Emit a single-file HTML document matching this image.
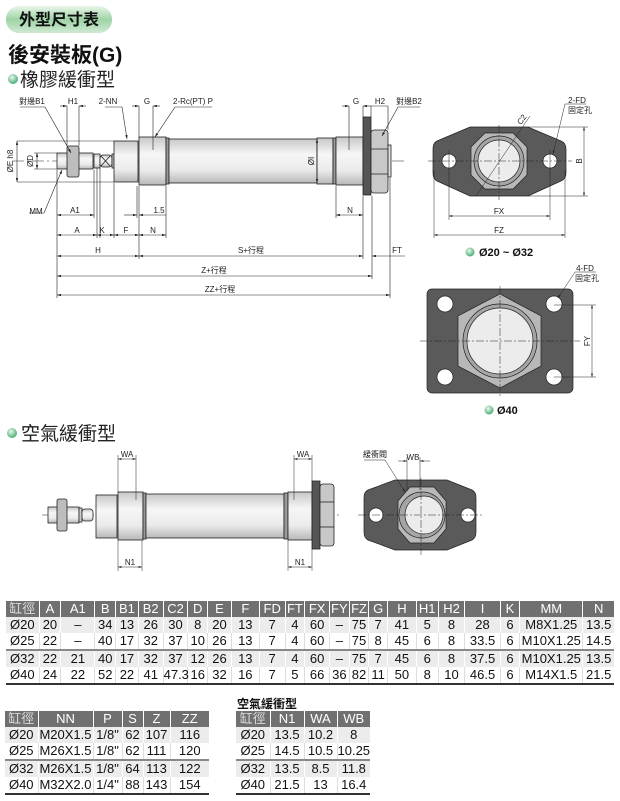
<!DOCTYPE html>
<html><head><meta charset="utf-8">
<style>
html,body{margin:0;padding:0;background:#fff;}
body{width:620px;height:801px;position:relative;overflow:hidden;font-family:"Liberation Sans","Noto Sans CJK TC",sans-serif;}
.abs{position:absolute;}
table{border-collapse:collapse;position:absolute;font-size:13px;color:#111;table-layout:fixed;border-bottom:2px solid #333;}
td,th{padding:0;text-align:center;line-height:16px;white-space:nowrap;overflow:visible;}
th{background:#707070;color:#fff;font-weight:normal;border-left:1px solid #fff;height:16px;}
th:first-child{border-left:none;color:#ddd;}
td{border-left:1px solid #fff;height:16px;}
tr.a td{background:#ececec;}
tr.b td{background:#fff;border-left:1px solid #ddd;}
tr td:first-child{border-left:none;}
tr.sep td{border-top:2px solid #888;}
</style></head><body>

<svg class="abs" style="left:0;top:0" width="620" height="801" viewBox="0 0 620 801" font-family="Liberation Sans, Noto Sans CJK TC, sans-serif">
<defs>
<linearGradient id="pill" x1="0" y1="0" x2="0" y2="1"><stop offset="0" stop-color="#e9f6ea"/><stop offset="0.5" stop-color="#9fd3a6"/><stop offset="1" stop-color="#cfe9d2"/></linearGradient>
<linearGradient id="cyl" x1="0" y1="0" x2="0" y2="1"><stop offset="0" stop-color="#c8c8c8"/><stop offset="0.35" stop-color="#f6f6f6"/><stop offset="0.7" stop-color="#ebebeb"/><stop offset="1" stop-color="#b8b8b8"/></linearGradient>
<radialGradient id="ball" cx="0.4" cy="0.35" r="0.7"><stop offset="0" stop-color="#e8f8ee"/><stop offset="1" stop-color="#3fa86a"/></radialGradient>
<marker id="ar" viewBox="0 0 10 6" refX="10" refY="3" markerWidth="7" markerHeight="4" orient="auto-start-reverse"><path d="M0,0L10,3L0,6z" fill="#222"/></marker>
</defs>

<rect x="6" y="6" width="106" height="27" rx="13" fill="url(#pill)"/>
<text x="59" y="25" font-size="16" font-weight="bold" text-anchor="middle" fill="#111">外型尺寸表</text>
<text x="8" y="62" font-size="21" font-weight="bold" fill="#111">後安裝板(G)</text>
<circle cx="13" cy="79" r="5" fill="url(#ball)"/>
<text x="20" y="86" font-size="19" fill="#222">橡膠緩衝型</text>

<g stroke="#222" stroke-width="0.8">
<line x1="12" y1="161" x2="405" y2="161" stroke-dasharray="12,3,2,3" stroke-width="0.5"/>
<rect x="57" y="153" width="36" height="16" fill="url(#cyl)"/>
<rect x="67" y="146" width="12" height="31" rx="2" fill="#bdbdbd"/>
<rect x="94" y="154" width="6" height="14" fill="url(#cyl)"/>
<rect x="100" y="155" width="12" height="12" rx="3" fill="url(#cyl)"/>
<line x1="101" y1="156" x2="110" y2="166"/><line x1="110" y1="156" x2="101" y2="166"/>
<rect x="112" y="154" width="2" height="14" fill="#ccc"/>
<rect x="114" y="141" width="24" height="41" fill="url(#cyl)"/>
<rect x="139" y="137" width="27" height="48" fill="url(#cyl)"/>
<rect x="166" y="138" width="3" height="46" fill="#999"/>
<rect x="169" y="139" width="148" height="44" fill="url(#cyl)"/>
<rect x="317" y="138" width="16" height="46" fill="url(#cyl)"/>
<rect x="333" y="138" width="3" height="46" fill="#999"/>
<rect x="336" y="137" width="27" height="48" fill="url(#cyl)"/>
<rect x="363" y="117" width="8" height="78" fill="#555"/>
<rect x="371" y="130" width="17" height="63" rx="3" fill="#c8c8c8"/>
<line x1="371" y1="149" x2="388" y2="149"/><line x1="371" y1="174" x2="388" y2="174"/>
<rect x="388" y="145" width="3" height="32" fill="#ddd"/>
</g>
<g stroke="#222" stroke-width="0.6" fill="none">
<line x1="57" y1="170" x2="57" y2="298"/><line x1="94" y1="170" x2="94" y2="218"/>
<line x1="97" y1="168" x2="97" y2="238"/><line x1="100" y1="168" x2="100" y2="238"/>
<line x1="114" y1="183" x2="114" y2="238"/><line x1="137" y1="186" x2="137" y2="218"/>
<line x1="139" y1="186" x2="139" y2="259"/><line x1="166" y1="186" x2="166" y2="238"/>
<line x1="336" y1="186" x2="336" y2="218"/><line x1="363" y1="196" x2="363" y2="259"/>
<line x1="372" y1="196" x2="372" y2="279"/><line x1="390" y1="178" x2="390" y2="298"/>
<line x1="17" y1="141" x2="114" y2="141"/><line x1="17" y1="182" x2="114" y2="182"/>
<line x1="34" y1="153" x2="57" y2="153"/><line x1="34" y1="169" x2="57" y2="169"/>
<line x1="17" y1="141" x2="17" y2="182" marker-start="url(#ar)" marker-end="url(#ar)"/>
<line x1="37" y1="153" x2="37" y2="169" marker-start="url(#ar)" marker-end="url(#ar)"/>
<line x1="317" y1="139" x2="317" y2="183" marker-start="url(#ar)" marker-end="url(#ar)"/>
<line x1="57" y1="215" x2="94" y2="215" marker-start="url(#ar)" marker-end="url(#ar)"/>
<line x1="124" y1="215" x2="137" y2="215" marker-end="url(#ar)"/>
<line x1="139" y1="215" x2="166" y2="215" marker-start="url(#ar)"/>
<line x1="336" y1="215" x2="363" y2="215" marker-start="url(#ar)" marker-end="url(#ar)"/>
<line x1="57" y1="235" x2="97" y2="235" marker-start="url(#ar)" marker-end="url(#ar)"/>
<line x1="97" y1="235" x2="114" y2="235" marker-start="url(#ar)" marker-end="url(#ar)"/>
<line x1="114" y1="235" x2="139" y2="235" marker-start="url(#ar)" marker-end="url(#ar)"/>
<line x1="139" y1="235" x2="166" y2="235" marker-start="url(#ar)" marker-end="url(#ar)"/>
<line x1="57" y1="256" x2="139" y2="256" marker-start="url(#ar)" marker-end="url(#ar)"/>
<line x1="139" y1="256" x2="363" y2="256" marker-start="url(#ar)" marker-end="url(#ar)"/>
<line x1="372" y1="256" x2="405" y2="256" marker-start="url(#ar)"/>
<line x1="57" y1="276" x2="372" y2="276" marker-start="url(#ar)" marker-end="url(#ar)"/>
<line x1="57" y1="295" x2="390" y2="295" marker-start="url(#ar)" marker-end="url(#ar)"/>
<line x1="67" y1="106" x2="67" y2="146"/><line x1="79" y1="106" x2="79" y2="146"/>
<line x1="60" y1="106" x2="67" y2="106" marker-end="url(#ar)"/><line x1="86" y1="106" x2="79" y2="106" marker-end="url(#ar)"/>
<line x1="139" y1="106" x2="139" y2="137"/><line x1="153" y1="106" x2="153" y2="150"/>
<line x1="132" y1="106" x2="139" y2="106" marker-end="url(#ar)"/><line x1="160" y1="106" x2="153" y2="106" marker-end="url(#ar)"/>
<line x1="349" y1="106" x2="349" y2="150"/><line x1="363" y1="106" x2="363" y2="117"/>
<line x1="342" y1="106" x2="349" y2="106" marker-end="url(#ar)"/><line x1="371" y1="106" x2="363" y2="106" marker-end="url(#ar)"/>
<line x1="371" y1="106" x2="371" y2="117"/><line x1="388" y1="106" x2="388" y2="130"/>
<line x1="371" y1="106" x2="388" y2="106"/>
<polyline points="20,107 45,107 71,153" marker-end="url(#ar)"/>
<polyline points="105,107 122,107 127,139" marker-end="url(#ar)"/>
<polyline points="212,107 175,107 155,137" marker-end="url(#ar)"/>
<polyline points="420,107 398,107 382,136" marker-end="url(#ar)"/>
<polyline points="29,213 44,213 62,170" marker-end="url(#ar)"/>
</g>
<g font-size="8" fill="#222" text-anchor="middle">
<text x="32" y="104">對邊B1</text><text x="73" y="104">H1</text><text x="108" y="104">2-NN</text>
<text x="147" y="104">G</text><text x="193" y="104">2-Rc(PT) P</text>
<text x="356" y="104">G</text><text x="380" y="104">H2</text><text x="409" y="104">對邊B2</text>
<text x="36" y="214">MM</text><text x="75" y="213">A1</text><text x="159" y="213">1.5</text><text x="350" y="213">N</text>
<text x="77" y="233">A</text><text x="102" y="233">K</text><text x="126" y="233">F</text><text x="153" y="233">N</text>
<text x="98" y="253">H</text><text x="251" y="253">S+行程</text><text x="397" y="253">FT</text>
<text x="214" y="273">Z+行程</text><text x="220" y="292">ZZ+行程</text>
<text transform="translate(13,161) rotate(-90)">ØE h8</text>
<text transform="translate(33,161) rotate(-90)">ØD</text>
<text transform="translate(314,161) rotate(-90)">ØI</text>
</g>

<g stroke="#222" stroke-width="0.7">
<path d="M470,127 L528,127 L561,141 Q566,143 566,149 L566,173 Q566,179 561,181 L528,196 L470,196 L437,181 Q433,179 433,173 L433,149 Q433,143 437,141 Z" fill="#5a5a5a"/>
<polygon points="485,133 513,133 527,147 527,175 513,189 485,189 471,175 471,147" fill="#b8b8b8"/>
<circle cx="499" cy="161" r="25" fill="#a5a5a5"/>
<circle cx="499" cy="161" r="21" fill="#ececec"/>
<circle cx="449" cy="161" r="7" fill="#fff"/><circle cx="550" cy="161" r="7" fill="#fff"/>
</g>
<g stroke="#222" stroke-width="0.5" fill="none">
<line x1="428" y1="161" x2="572" y2="161" stroke-dasharray="8,2,2,2"/>
<line x1="499" y1="125" x2="499" y2="200" stroke-dasharray="8,2,2,2"/>
<line x1="449" y1="150" x2="449" y2="220"/><line x1="550" y1="150" x2="550" y2="220"/>
<line x1="434" y1="170" x2="434" y2="238"/><line x1="565" y1="170" x2="565" y2="238"/>
<line x1="528" y1="127" x2="588" y2="127"/><line x1="528" y1="196" x2="588" y2="196"/>
<line x1="584" y1="127" x2="584" y2="196" marker-start="url(#ar)" marker-end="url(#ar)"/>
<line x1="449" y1="216" x2="550" y2="216" marker-start="url(#ar)" marker-end="url(#ar)"/>
<line x1="434" y1="235" x2="565" y2="235" marker-start="url(#ar)" marker-end="url(#ar)"/>
<line x1="476" y1="196" x2="530" y2="116"/>
<polyline points="586,104 565,104 553,154" marker-end="url(#ar)"/>
</g>
<g font-size="8" fill="#222" text-anchor="middle">
<text x="577" y="103">2-FD</text><text x="580" y="113">固定孔</text>
<text transform="translate(524,121) rotate(-55)">C2</text>
<text transform="translate(582,161) rotate(-90)">B</text>
<text x="499" y="214">FX</text><text x="499" y="233">FZ</text>
</g>
<circle cx="470" cy="252" r="4.5" fill="url(#ball)"/>
<text x="479" y="256" font-size="11" font-weight="bold" fill="#111">Ø20 ~ Ø32</text>

<g stroke="#222" stroke-width="0.7">
<rect x="427" y="289" width="146" height="104" rx="5" fill="#5a5a5a"/>
<polygon points="500,294 541,316 541,366 500,388 458,366 458,316" fill="#b8b8b8"/>
<circle cx="500" cy="341" r="37" fill="#a5a5a5"/>
<circle cx="500" cy="341" r="33" fill="#ececec"/>
<circle cx="445" cy="304" r="8" fill="#fff"/><circle cx="554" cy="304" r="8" fill="#fff"/>
<circle cx="445" cy="377" r="8" fill="#fff"/><circle cx="554" cy="377" r="8" fill="#fff"/>
</g>
<g stroke="#222" stroke-width="0.5" fill="none">
<line x1="420" y1="341" x2="580" y2="341" stroke-dasharray="8,2,2,2"/>
<line x1="500" y1="286" x2="500" y2="396" stroke-dasharray="8,2,2,2"/>
<line x1="554" y1="305" x2="596" y2="305"/><line x1="554" y1="377" x2="596" y2="377"/>
<line x1="592" y1="305" x2="592" y2="377" marker-start="url(#ar)" marker-end="url(#ar)"/>
<polyline points="596,272 575,272 558,298" marker-end="url(#ar)"/>
</g>
<g font-size="8" fill="#222" text-anchor="middle">
<text x="585" y="271">4-FD</text><text x="587" y="281">固定孔</text>
<text transform="translate(590,341) rotate(-90)">FY</text>
</g>
<circle cx="489" cy="410" r="4.5" fill="url(#ball)"/>
<text x="497" y="414" font-size="11" font-weight="bold" fill="#111">Ø40</text>

<circle cx="12" cy="433" r="5" fill="url(#ball)"/>
<text x="21" y="440" font-size="19" fill="#222">空氣緩衝型</text>
<g stroke="#222" stroke-width="0.8">
<line x1="42" y1="515" x2="340" y2="515" stroke-dasharray="12,3,2,3" stroke-width="0.5"/>
<rect x="48" y="507" width="31" height="16" fill="url(#cyl)"/>
<rect x="57" y="499" width="10" height="32" rx="2" fill="#bdbdbd"/>
<rect x="79" y="508" width="3" height="14" fill="#ccc"/>
<rect x="82" y="509" width="11" height="12" rx="3" fill="url(#cyl)"/>
<rect x="96" y="495" width="21" height="43" fill="url(#cyl)"/>
<rect x="118" y="492" width="25" height="48" fill="url(#cyl)"/>
<rect x="143" y="493" width="3" height="46" fill="#999"/>
<rect x="146" y="494" width="138" height="44" fill="url(#cyl)"/>
<rect x="284" y="493" width="4" height="46" fill="#999"/>
<rect x="288" y="492" width="24" height="48" fill="url(#cyl)"/>
<rect x="312" y="481" width="8" height="68" fill="#555"/>
<rect x="320" y="484" width="14" height="62" rx="3" fill="#c8c8c8"/>
<line x1="320" y1="502" x2="334" y2="502"/><line x1="320" y1="527" x2="334" y2="527"/>
</g>
<g stroke="#222" stroke-width="0.5" fill="none">
<line x1="118" y1="455" x2="118" y2="492"/><line x1="136" y1="455" x2="136" y2="500"/>
<line x1="118" y1="459" x2="136" y2="459" marker-start="url(#ar)" marker-end="url(#ar)"/>
<line x1="294" y1="455" x2="294" y2="500"/><line x1="312" y1="455" x2="312" y2="481"/>
<line x1="294" y1="459" x2="312" y2="459" marker-start="url(#ar)" marker-end="url(#ar)"/>
<line x1="118" y1="540" x2="118" y2="571"/><line x1="142" y1="540" x2="142" y2="571"/>
<line x1="118" y1="567" x2="142" y2="567" marker-start="url(#ar)" marker-end="url(#ar)"/>
<line x1="288" y1="540" x2="288" y2="571"/><line x1="312" y1="549" x2="312" y2="571"/>
<line x1="288" y1="567" x2="312" y2="567" marker-start="url(#ar)" marker-end="url(#ar)"/>
</g>
<g font-size="8" fill="#222" text-anchor="middle">
<text x="127" y="457">WA</text><text x="303" y="457">WA</text>
<text x="130" y="565">N1</text><text x="300" y="565">N1</text>
<text x="375" y="457">緩衝閥</text><text x="413" y="460">WB</text>
</g>
<g stroke="#222" stroke-width="0.7">
<path d="M395,480 L447,480 L472,490 Q476,492 476,498 L476,532 Q476,538 472,540 L447,550 L395,550 L368,540 Q364,538 364,532 L364,498 Q364,492 368,490 Z" fill="#5a5a5a"/>
<polygon points="410,487 434,487 446,501 446,529 434,543 410,543 398,529 398,501" fill="#b8b8b8"/>
<circle cx="422" cy="515" r="23" fill="#a5a5a5"/>
<circle cx="424" cy="515" r="19" fill="#ececec"/>
<circle cx="376" cy="515" r="7" fill="#fff"/><circle cx="468" cy="515" r="7" fill="#fff"/>
</g>
<g stroke="#222" stroke-width="0.5" fill="none">
<line x1="358" y1="515" x2="482" y2="515" stroke-dasharray="8,2,2,2"/>
<line x1="421" y1="478" x2="421" y2="555" stroke-dasharray="8,2,2,2"/>
<line x1="407" y1="457" x2="407" y2="490"/><line x1="420" y1="457" x2="420" y2="490"/>
<line x1="398" y1="461" x2="407" y2="461" marker-end="url(#ar)"/><line x1="430" y1="461" x2="420" y2="461" marker-end="url(#ar)"/>
<polyline points="364,460 385,460 405,492" marker-end="url(#ar)"/>
</g>
</svg>

<table style="left:6px;top:601px;width:608px;">
<colgroup><col style="width:32px"><col style="width:21px"><col style="width:33px"><col style="width:20px"><col style="width:22px"><col style="width:24px"><col style="width:24px"><col style="width:19px"><col style="width:23px"><col style="width:27px"><col style="width:25px"><col style="width:19px"><col style="width:24px"><col style="width:19px"><col style="width:19px"><col style="width:18px"><col style="width:28px"><col style="width:21px"><col style="width:26px"><col style="width:34px"><col style="width:19px"><col style="width:61px"><col style="width:30px"></colgroup>
<tr><th>缸徑</th><th>A</th><th>A1</th><th>B</th><th>B1</th><th>B2</th><th>C2</th><th>D</th><th>E</th><th>F</th><th>FD</th><th>FT</th><th>FX</th><th>FY</th><th>FZ</th><th>G</th><th>H</th><th>H1</th><th>H2</th><th>I</th><th>K</th><th>MM</th><th>N</th></tr>
<tr class="a"><td>Ø20</td><td>20</td><td>–</td><td>34</td><td>13</td><td>26</td><td>30</td><td>8</td><td>20</td><td>13</td><td>7</td><td>4</td><td>60</td><td>–</td><td>75</td><td>7</td><td>41</td><td>5</td><td>8</td><td>28</td><td>6</td><td>M8X1.25</td><td>13.5</td></tr>
<tr class="b"><td>Ø25</td><td>22</td><td>–</td><td>40</td><td>17</td><td>32</td><td>37</td><td>10</td><td>26</td><td>13</td><td>7</td><td>4</td><td>60</td><td>–</td><td>75</td><td>8</td><td>45</td><td>6</td><td>8</td><td>33.5</td><td>6</td><td>M10X1.25</td><td>14.5</td></tr>
<tr class="a sep"><td>Ø32</td><td>22</td><td>21</td><td>40</td><td>17</td><td>32</td><td>37</td><td>12</td><td>26</td><td>13</td><td>7</td><td>4</td><td>60</td><td>–</td><td>75</td><td>7</td><td>45</td><td>6</td><td>8</td><td>37.5</td><td>6</td><td>M10X1.25</td><td>13.5</td></tr>
<tr class="b"><td>Ø40</td><td>24</td><td>22</td><td>52</td><td>22</td><td>41</td><td>47.3</td><td>16</td><td>32</td><td>16</td><td>7</td><td>5</td><td>66</td><td>36</td><td>82</td><td>11</td><td>50</td><td>8</td><td>10</td><td>46.5</td><td>6</td><td>M14X1.5</td><td>21.5</td></tr>
</table>

<div class="abs" style="left:237px;top:695px;font-size:12px;font-weight:bold;color:#111;">空氣緩衝型</div>

<table style="left:5px;top:711px;width:204px;">
<colgroup><col style="width:33px"><col style="width:55px"><col style="width:29px"><col style="width:21px"><col style="width:27px"><col style="width:39px"></colgroup>
<tr><th>缸徑</th><th>NN</th><th>P</th><th>S</th><th>Z</th><th>ZZ</th></tr>
<tr class="a"><td>Ø20</td><td>M20X1.5</td><td>1/8"</td><td>62</td><td>107</td><td>116</td></tr>
<tr class="b"><td>Ø25</td><td>M26X1.5</td><td>1/8"</td><td>62</td><td>111</td><td>120</td></tr>
<tr class="a sep"><td>Ø32</td><td>M26X1.5</td><td>1/8"</td><td>64</td><td>113</td><td>122</td></tr>
<tr class="b"><td>Ø40</td><td>M32X2.0</td><td>1/4"</td><td>88</td><td>143</td><td>154</td></tr>
</table>

<table style="left:236px;top:711px;width:134px;">
<colgroup><col style="width:34px"><col style="width:34px"><col style="width:33px"><col style="width:33px"></colgroup>
<tr><th>缸徑</th><th>N1</th><th>WA</th><th>WB</th></tr>
<tr class="a"><td>Ø20</td><td>13.5</td><td>10.2</td><td>8</td></tr>
<tr class="b"><td>Ø25</td><td>14.5</td><td>10.5</td><td>10.25</td></tr>
<tr class="a sep"><td>Ø32</td><td>13.5</td><td>8.5</td><td>11.8</td></tr>
<tr class="b"><td>Ø40</td><td>21.5</td><td>13</td><td>16.4</td></tr>
</table>
</body></html>
